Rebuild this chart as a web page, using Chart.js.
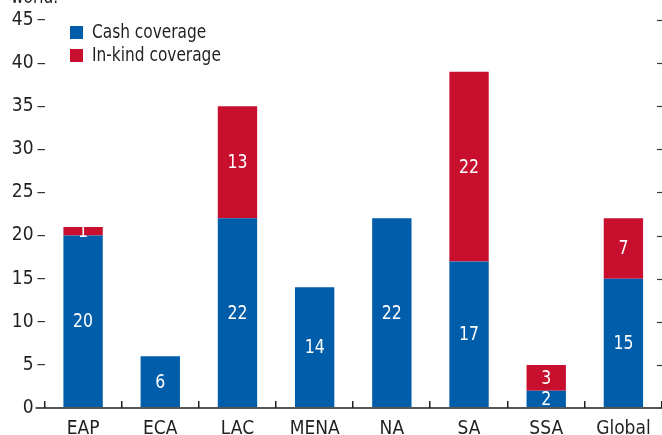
<!DOCTYPE html>
<html>
<head>
<meta charset="utf-8">
<script src="https://cdn.jsdelivr.net/npm/chart.js@4.4.1/dist/chart.umd.min.js"></script>
<style>
  html, body { margin: 0; padding: 0; background: #fff; }
  #wrap { width: 662px; height: 435px; position: relative; }
</style>
</head>
<body>
<div id="wrap"><canvas id="c" width="662" height="435"></canvas></div>
<script>
const categories = ['EAP', 'ECA', 'LAC', 'MENA', 'NA', 'SA', 'SSA', 'Global'];
const cashCoverage = [20, 6, 22, 14, 22, 17, 2, 15];
const inKindCoverage = [1, 0, 13, 0, 0, 22, 3, 7];
const seriesLabels = ['Cash coverage', 'In-kind coverage'];
const yTicks = [0, 5, 10, 15, 20, 25, 30, 35, 40, 45];
const clippedTitle = 'world.';

const FONT = "'Liberation Sans Narrow', 'DejaVu Sans Condensed', 'Roboto', sans-serif";
const BLUE = '#005daa';
const RED = '#c8102e';
const TEXT = '#231f20';

function condensedText(ctx, text, x, y, sx) {
  ctx.save();
  ctx.translate(x, y);
  ctx.scale(sx, 1);
  ctx.fillText(text, 0, 0);
  ctx.restore();
}

const decorPlugin = {
  id: 'decor',
  afterDraw(chart) {
    const ctx = chart.ctx;
    const ca = chart.chartArea;
    const x = chart.scales.x;
    const y = chart.scales.y;
    ctx.save();
    // clipped title at top
    ctx.fillStyle = TEXT;
    ctx.font = '19px ' + FONT;
    ctx.textBaseline = 'alphabetic';
    ctx.textAlign = 'left';
    condensedText(ctx, clippedTitle, 11, 3, 0.9);
    // x axis line
    ctx.strokeStyle = '#555';
    ctx.lineWidth = 2;
    ctx.beginPath();
    ctx.moveTo(ca.left - 9, ca.bottom);
    ctx.lineTo(ca.right + 1, ca.bottom);
    ctx.stroke();
    // category boundary ticks (upwards)
    ctx.strokeStyle = '#222';
    ctx.lineWidth = 1.5;
    const n = categories.length;
    const step = (x.getPixelForValue(n - 1) - x.getPixelForValue(0)) / (n - 1);
    for (let i = 0; i <= n; i++) {
      const px = Math.round(x.getPixelForValue(0) - step / 2 + i * step) - 0.25;
      ctx.beginPath();
      ctx.moveTo(px, ca.bottom);
      ctx.lineTo(px, ca.bottom - 7);
      ctx.stroke();
    }
    // right side inward ticks
    ctx.strokeStyle = '#333';
    ctx.lineWidth = 1.2;
    yTicks.forEach(v => {
      if (v === 0) return;
      const py = Math.round(y.getPixelForValue(v)) + 0.5;
      ctx.beginPath();
      ctx.moveTo(ca.right - 5, py);
      ctx.lineTo(ca.right + 1, py);
      ctx.stroke();
    });
    // legend
    const lx = 70, ly = [26, 49], sz = 13;
    chart.data.datasets.forEach((ds, i) => {
      ctx.fillStyle = ds.backgroundColor;
      ctx.fillRect(lx, ly[i], sz, sz);
      ctx.fillStyle = TEXT;
      ctx.font = '19px ' + FONT;
      ctx.textBaseline = 'middle';
      ctx.textAlign = 'left';
      condensedText(ctx, ds.label, lx + 22, ly[i] + sz / 2 + 1, 0.9);
    });
    // data labels
    ctx.fillStyle = '#ffffff';
    ctx.font = '19px ' + FONT;
    ctx.textAlign = 'center';
    ctx.textBaseline = 'middle';
    chart.data.datasets.forEach((ds, di) => {
      const meta = chart.getDatasetMeta(di);
      meta.data.forEach((bar, i) => {
        const v = ds.data[i];
        if (!v) return;
        const cy = (bar.y + bar.base) / 2;
        condensedText(ctx, String(v), bar.x, cy + 1, 0.92);
      });
    });
    ctx.restore();
  }
};

new Chart(document.getElementById('c'), {
  type: 'bar',
  data: {
    labels: categories,
    datasets: [
      { label: seriesLabels[0], data: cashCoverage, backgroundColor: BLUE, borderWidth: 0 },
      { label: seriesLabels[1], data: inKindCoverage, backgroundColor: RED, borderWidth: 0 }
    ]
  },
  options: {
    responsive: false,
    animation: false,
    devicePixelRatio: 1,
    layout: { padding: { top: 20, right: 0, left: 0, bottom: 0 } },
    categoryPercentage: 1,
    barPercentage: 0.51,
    plugins: { legend: { display: false }, tooltip: { enabled: false } },
    scales: {
      x: {
        stacked: true,
        grid: { display: false },
        border: { display: false },
        ticks: { color: TEXT, font: { family: FONT, size: 19 }, padding: 2, maxRotation: 0 },
        afterFit(scale) { scale.height = 27; }
      },
      y: {
        stacked: true,
        min: 0, max: 45,
        afterBuildTicks(scale) { scale.ticks = yTicks.map(v => ({ value: v })); },
        grid: { drawOnChartArea: false, drawTicks: true, tickLength: 7, color: '#333', lineWidth: 1.2 },
        border: { display: false },
        ticks: { color: TEXT, font: { family: FONT, size: 19 }, padding: 4 },
        afterFit(scale) { scale.width = 44.5; }
      }
    }
  },
  plugins: [decorPlugin]
});
</script>
</body>
</html>
